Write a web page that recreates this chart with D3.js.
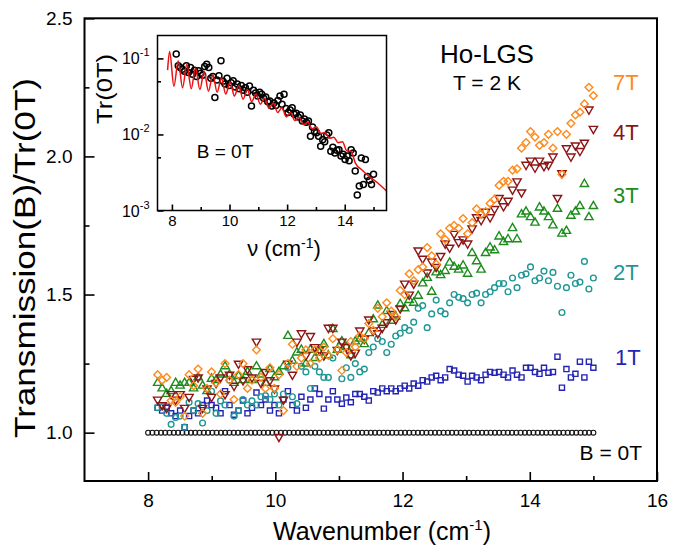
<!DOCTYPE html>
<html>
<head>
<meta charset="utf-8">
<script src="https://cdn.jsdelivr.net/npm/d3@7"></script>
<style>
  html, body { margin: 0; padding: 0; background: #fff; }
  svg text { font-family: "Liberation Sans", Arial, Helvetica, sans-serif; fill: #000; }
</style>
</head>
<body>
<svg id="chart" width="686" height="548"></svg>
<script>
// ---------- data ----------
// zero-field reference (ratio is identically 1), sampled 8.0 .. 15.0 cm^-1
const nuZero = d3.range(105).map(i => 8.0 + i * 7.0 / 104);
const ratio0T = [
  1,1,1,1,1,1,1, 1,1,1,1,1,1,1, 1,1,1,1,1,1,1, 1,1,1,1,1,1,1, 1,1,1,1,1,1,1,
  1,1,1,1,1,1,1, 1,1,1,1,1,1,1, 1,1,1,1,1,1,1, 1,1,1,1,1,1,1, 1,1,1,1,1,1,1,
  1,1,1,1,1,1,1, 1,1,1,1,1,1,1, 1,1,1,1,1,1,1, 1,1,1,1,1,1,1, 1,1,1,1,1,1,1
];

// in-field spectra, sampled 8.15 .. 15.0 cm^-1
const nuField = d3.range(98).map(i => 8.15 + i * (15.0 - 8.15) / 97);

const ratio1T = [
  1.09,1.08,1.094,1.07,1.06,1.08,1.02,
  1.06,1.08,1.07,1.10,1.116,1.10,1.09,
  1.07,1.15,1.10,1.065,1.08,1.116,1.07,
  1.09,1.145,1.10,1.12,1.08,1.10,1.07,
  1.12,1.15,1.10,1.08,1.13,1.09,1.12,
  1.16,1.14,1.087,1.12,1.15,1.12,1.105,
  1.127,1.11,1.14,1.14,1.13,1.116,1.15,
  1.145,1.16,1.15,1.16,1.15,1.16,1.17,
  1.16,1.178,1.17,1.19,1.185,1.20,1.206,
  1.19,1.20,1.23,1.225,1.21,1.206,1.185,
  1.206,1.20,1.19,1.21,1.22,1.217,1.22,
  1.21,1.20,1.225,1.21,1.20,1.235,1.235,
  1.22,1.213,1.235,1.217,1.22,1.275,1.163,
  1.23,1.20,1.213,1.257,1.20,1.257,1.235
];

const ratio2T = [
  1.09,1.094,1.07,1.03,1.055,1.06,1.02,
  1.11,1.08,1.105,1.035,1.08,1.15,1.07,
  1.115,1.10,1.19,1.06,1.08,1.12,1.10,
  1.115,1.10,1.13,1.134,1.12,1.14,1.10,
  1.14,1.236,1.13,1.105,1.24,1.22,1.16,
  1.24,1.22,1.20,1.20,1.27,1.30,1.195,
  1.235,1.20,1.25,1.22,1.23,1.29,1.31,
  1.34,1.33,1.29,1.32,1.35,1.36,1.38,
  1.37,1.40,1.45,1.46,1.38,1.43,1.48,
  1.44,1.43,1.47,1.50,1.49,1.485,1.47,
  1.50,1.505,1.47,1.50,1.51,1.525,1.54,
  1.54,1.51,1.56,1.525,1.57,1.575,1.60,
  1.55,1.56,1.585,1.55,1.58,1.53,1.435,
  1.525,1.57,1.54,1.545,1.62,1.52,1.56
];

const ratio3T = [
  1.18,1.16,1.14,1.15,1.18,1.17,1.18,
  1.18,1.16,1.20,1.17,1.15,1.195,1.19,
  1.21,1.24,1.21,1.18,1.205,1.19,1.22,
  1.19,1.24,1.21,1.18,1.23,1.20,1.22,
  1.24,1.35,1.26,1.29,1.30,1.25,1.30,
  1.27,1.29,1.32,1.28,1.375,1.30,1.33,
  1.31,1.28,1.33,1.34,1.32,1.36,1.41,
  1.46,1.39,1.44,1.405,1.42,1.465,1.45,
  1.48,1.47,1.495,1.54,1.56,1.51,1.58,
  1.57,1.585,1.615,1.60,1.59,1.605,1.575,
  1.65,1.62,1.59,1.65,1.67,1.66,1.71,
  1.69,1.70,1.74,1.70,1.79,1.80,1.78,
  1.76,1.815,1.80,1.78,1.75,1.81,1.72,
  1.73,1.785,1.80,1.82,1.90,1.78,1.82
];

const ratio4T = [
  1.12,1.10,1.09,1.14,1.12,1.14,1.09,
  1.13,1.195,1.20,1.09,1.16,1.13,1.18,
  1.20,1.14,1.21,1.17,1.25,1.19,1.23,
  1.20,1.33,1.18,1.22,1.19,1.16,0.985,
  1.12,1.25,1.21,1.33,1.36,1.28,1.35,
  1.31,1.30,1.28,1.38,1.38,1.30,1.33,
  1.31,1.28,1.29,1.37,1.34,1.41,1.37,
  1.36,1.38,1.40,1.43,1.41,1.45,1.54,
  1.50,1.54,1.66,1.63,1.58,1.62,1.60,
  1.64,1.685,1.67,1.72,1.69,1.70,1.685,
  1.74,1.78,1.77,1.80,1.78,1.81,1.85,
  1.82,1.84,1.88,1.91,1.87,1.97,1.985,
  1.96,1.985,1.965,1.97,2.00,1.85,1.94,
  2.03,2.00,2.04,2.02,2.05,2.17,2.10
];

const ratio7T = [
  1.21,1.19,1.20,1.116,1.11,1.13,1.06,
  1.21,1.17,1.23,1.07,1.16,1.22,1.18,
  1.14,1.25,1.19,1.12,1.21,1.25,1.16,
  1.19,1.30,1.20,1.16,1.235,1.16,1.21,
  1.08,1.25,1.32,1.24,1.27,1.30,1.25,
  1.30,1.27,1.31,1.28,1.34,1.30,1.225,
  1.29,1.33,1.31,1.35,1.34,1.395,1.37,
  1.45,1.42,1.47,1.44,1.42,1.515,1.50,
  1.575,1.55,1.59,1.60,1.67,1.64,1.61,
  1.72,1.70,1.74,1.75,1.74,1.775,1.72,
  1.76,1.81,1.79,1.80,1.83,1.845,1.895,
  1.91,1.91,1.95,1.955,2.03,2.05,2.09,
  2.07,2.04,2.05,2.08,2.03,2.09,1.935,
  2.08,2.12,2.15,2.16,2.19,2.25,2.22
];

// inset: zero-field transmission on the same in-field grid
const trZero = [
  0.114,0.080,0.076,0.072,0.068,0.080,0.065,
  0.076,0.062,0.070,0.058,0.069,0.064,0.060,
  0.078,0.084,0.076,0.055,0.058,0.0305,0.052,
  0.059,0.093,0.050,0.046,0.055,0.044,0.048,
  0.051,0.042,0.046,0.040,0.044,0.038,0.041,
  0.036,0.0435,0.0237,0.038,0.035,0.032,0.036,
  0.0337,0.030,0.031,0.027,0.0276,0.0237,0.026,
  0.024,0.028,0.032,0.0249,0.0337,0.022,0.0194,
  0.021,0.0225,0.0184,0.019,0.017,0.018,0.015,
  0.016,0.0145,0.015,0.0095,0.0125,0.011,0.0105,
  0.0095,0.007,0.0085,0.008,0.0098,0.0105,0.006,
  0.0068,0.0057,0.0062,0.0063,0.0052,0.0055,0.0047,
  0.0052,0.0045,0.0063,0.0057,0.0033,0.0016,0.0021,
  0.0049,0.0022,0.0047,0.0028,0.0025,0.0022,0.003
];

// inset: model transmission with Fabry-Perot fringes (fringe maxima / minima)
const fitNu = [7.85,7.92,8.07,8.22,8.37,8.52,8.67,8.82,8.97,9.12,9.27,9.42,9.57,9.72,9.87,
  10.02,10.17,10.32,10.47,10.62,10.77,10.92,11.07,11.22,11.37,11.52,11.67,11.82,11.97,
  12.12,12.27,12.42,12.57,12.72,12.87,13.02,13.17,13.32,13.47,13.62,13.77,13.92,14.07,
  14.22,14.37,14.6,14.85,15.15,15.45];
const fitTr = [0.07,0.123,0.043,0.093,0.041,0.084,0.040,0.075,0.039,0.067,0.037,0.061,0.036,0.055,0.034,
  0.049,0.032,0.044,0.029,0.039,0.027,0.034,0.025,0.030,0.022,0.026,0.0195,0.0225,0.017,
  0.0195,0.0152,0.0168,0.0135,0.0145,0.0118,0.0125,0.0103,0.0106,0.0089,0.0092,0.0078,0.0080,0.0061,
  0.0060,0.0042,0.0034,0.0028,0.0023,0.0018];

const xTicksMain = [8, 10, 12, 14, 16];
const xMinorMain = [9, 11, 13, 15];
const yTicksMain = [1.0, 1.5, 2.0, 2.5];
const yMinorMain = [1.25, 1.75, 2.25];
const xTicksInset = [8, 10, 12, 14];
const xMinorInset = [9, 11, 13, 15];
const yTicksInset = [1e-3, 1e-2, 1e-1];
const yTickLabelsInset = ["-3", "-2", "-1"];
const yMinorInset = [5e-3, 5e-2];

// ---------- layout ----------
const FONT = '"Liberation Sans", Arial, Helvetica, sans-serif';
const svg = d3.select("#chart");
svg.append("rect").attr("width", 686).attr("height", 548).attr("fill", "#fff");

const M = { left: 84.5, right: 657, top: 18.3, bottom: 481 };
const x = d3.scaleLinear().domain([7, 16]).range([M.left, M.right]);
const y = d3.scaleLinear().domain([0.825, 2.5]).range([M.bottom, M.top]);

function styleAxis(g, size) {
  g.attr("font-family", FONT).attr("font-size", size);
  g.select(".domain").remove();
  g.selectAll(".tick line").attr("stroke", "#000").attr("stroke-width", 1.6);
  g.selectAll(".tick text").attr("fill", "#000");
}

// main axes (ticks pointing inward)
svg.append("g").attr("transform", `translate(0,${M.bottom})`)
  .call(d3.axisBottom(x).tickValues(xTicksMain).tickSize(-9).tickPadding(13).tickFormat(d3.format("d")))
  .call(g => styleAxis(g, 19));
svg.append("g").attr("transform", `translate(0,${M.bottom})`)
  .call(d3.axisBottom(x).tickValues(xMinorMain).tickSize(-5).tickFormat(""))
  .call(g => styleAxis(g, 19));
svg.append("g").attr("transform", `translate(${M.left},0)`)
  .call(d3.axisLeft(y).tickValues(yTicksMain).tickSize(-10).tickPadding(12).tickFormat(d3.format(".1f")))
  .call(g => styleAxis(g, 19));
svg.append("g").attr("transform", `translate(${M.left},0)`)
  .call(d3.axisLeft(y).tickValues(yMinorMain).tickSize(-5).tickFormat(""))
  .call(g => styleAxis(g, 19));

// ---------- main data ----------
const sym = (type, size) => d3.symbol().type(type).size(size)();
const series = [
  { nu: nuZero,  v: ratio0T, color: "#111111", path: sym(d3.symbolCircle, 19), rot: 0,  sw: 1.1 },
  { nu: nuField, v: ratio1T, color: "#2424b4", path: sym(d3.symbolSquare, 26), rot: 0,  sw: 1.4 },
  { nu: nuField, v: ratio2T, color: "#1f9696", path: sym(d3.symbolCircle, 26), rot: 0,  sw: 1.4 },
  { nu: nuField, v: ratio3T, color: "#1d8c1d", path: sym(d3.symbolTriangle, 30), rot: 0, sw: 1.4 },
  { nu: nuField, v: ratio4T, color: "#8c1414", path: sym(d3.symbolTriangle, 30), rot: 180, sw: 1.4 },
  { nu: nuField, v: ratio7T, color: "#ff8a1c", path: sym(d3.symbolSquare, 30), rot: 45, sw: 1.4 }
];

const gData = svg.append("g");
series.forEach(s => {
  gData.append("g").selectAll("path")
    .data(s.v.map((val, i) => [s.nu[i], val]))
    .join("path")
    .attr("d", s.path)
    .attr("transform", d => `translate(${x(d[0])},${y(d[1])}) rotate(${s.rot})`)
    .attr("fill", "none")
    .attr("stroke", s.color)
    .attr("stroke-width", s.sw);
});

// main frame
svg.append("rect")
  .attr("x", M.left).attr("y", M.top)
  .attr("width", M.right - M.left).attr("height", M.bottom - M.top)
  .attr("fill", "none").attr("stroke", "#000").attr("stroke-width", 2);

// series labels
const labels = [
  { t: "7T", x: 613, y: 90, c: "#ff8a1c" },
  { t: "4T", x: 613, y: 140, c: "#8c1414" },
  { t: "3T", x: 613, y: 203, c: "#1d8c1d" },
  { t: "2T", x: 613, y: 280, c: "#1f9696" },
  { t: "1T", x: 615, y: 365, c: "#2424b4" }
];
labels.forEach(l => svg.append("text").attr("x", l.x).attr("y", l.y)
  .attr("font-size", 22).style("fill", l.c).text(l.t));
svg.append("text").attr("x", 642).attr("y", 460).attr("text-anchor", "end")
  .attr("font-size", 21).text("B = 0T");
svg.append("text").attr("x", 487).attr("y", 63).attr("text-anchor", "middle")
  .attr("font-size", 26).text("Ho-LGS");
svg.append("text").attr("x", 487).attr("y", 90).attr("text-anchor", "middle")
  .attr("font-size", 21).text("T = 2 K");

// axis titles
const xt = svg.append("text").attr("x", 382).attr("y", 540)
  .attr("text-anchor", "middle").attr("font-size", 25);
xt.append("tspan").text("Wavenumber (cm");
xt.append("tspan").attr("dy", -10).attr("font-size", 15).text("-1");
xt.append("tspan").attr("dy", 10).text(")");

svg.append("text").attr("transform", `translate(35,258) rotate(-90)`)
  .attr("text-anchor", "middle").attr("font-size", 29)
  .attr("textLength", 360).attr("lengthAdjust", "spacingAndGlyphs")
  .text("Transmission(B)/Tr(0T)");

// ---------- inset ----------
const I = { left: 157.5, right: 386.5, top: 35.5, bottom: 210.5 };
const xi = d3.scaleLinear().domain([7.5, 15.45]).range([I.left, I.right]);
const yi = d3.scaleLog().domain([1e-3, 0.2]).range([I.bottom, I.top]);

svg.append("rect").attr("x", I.left).attr("y", I.top)
  .attr("width", I.right - I.left).attr("height", I.bottom - I.top).attr("fill", "#fff");

svg.append("clipPath").attr("id", "insetClip").append("rect")
  .attr("x", I.left).attr("y", I.top).attr("width", I.right - I.left).attr("height", I.bottom - I.top);

svg.append("g").attr("transform", `translate(0,${I.bottom})`)
  .call(d3.axisBottom(xi).tickValues(xTicksInset).tickSize(-6).tickPadding(5).tickFormat(d3.format("d")))
  .call(g => styleAxis(g, 15));
svg.append("g").attr("transform", `translate(0,${I.bottom})`)
  .call(d3.axisBottom(xi).tickValues(xMinorInset).tickSize(-3.5).tickFormat(""))
  .call(g => styleAxis(g, 15));
svg.append("g").attr("transform", `translate(${I.left},0)`)
  .call(d3.axisLeft(yi).tickValues(yTicksInset).tickSize(-6).tickFormat(""))
  .call(g => styleAxis(g, 15));
svg.append("g").attr("transform", `translate(${I.left},0)`)
  .call(d3.axisLeft(yi).tickValues(yMinorInset).tickSize(-3.5).tickFormat(""))
  .call(g => styleAxis(g, 15));

yTicksInset.forEach((v, i) => {
  const t = svg.append("text").attr("x", I.left - 8).attr("y", yi(v) + 6)
    .attr("text-anchor", "end").attr("font-size", 16);
  t.append("tspan").text("10");
  t.append("tspan").attr("dy", -8).attr("font-size", 11).text(yTickLabelsInset[i]);
});

// measured zero-field transmission
svg.append("g").attr("clip-path", "url(#insetClip)")
  .selectAll("circle")
  .data(trZero.map((v, i) => [nuField[i], v]))
  .join("circle")
  .attr("cx", d => xi(d[0])).attr("cy", d => yi(d[1])).attr("r", 3)
  .attr("fill", "none").attr("stroke", "#000").attr("stroke-width", 1.5);

// model curve
svg.append("path").attr("clip-path", "url(#insetClip)")
  .datum(fitNu.map((v, i) => [v, fitTr[i]]))
  .attr("d", d3.line().x(d => xi(d[0])).y(d => yi(d[1])).curve(d3.curveMonotoneX))
  .attr("fill", "none").attr("stroke", "#ee1111").attr("stroke-width", 1.5);

svg.append("rect").attr("x", I.left).attr("y", I.top)
  .attr("width", I.right - I.left).attr("height", I.bottom - I.top)
  .attr("fill", "none").attr("stroke", "#000").attr("stroke-width", 1.5);

svg.append("text").attr("x", 225).attr("y", 158).attr("text-anchor", "middle")
  .attr("font-size", 19).text("B = 0T");

const xit = svg.append("text").attr("x", 284).attr("y", 256)
  .attr("text-anchor", "middle").attr("font-size", 22);
xit.append("tspan").text("\u03bd (cm");
xit.append("tspan").attr("dy", -8).attr("font-size", 14).text("-1");
xit.append("tspan").attr("dy", 8).text(")");

svg.append("text").attr("transform", `translate(112,89) rotate(-90)`)
  .attr("text-anchor", "middle").attr("font-size", 22)
  .attr("textLength", 70).attr("lengthAdjust", "spacingAndGlyphs")
  .text("Tr(0T)");
</script>
</body>
</html>
